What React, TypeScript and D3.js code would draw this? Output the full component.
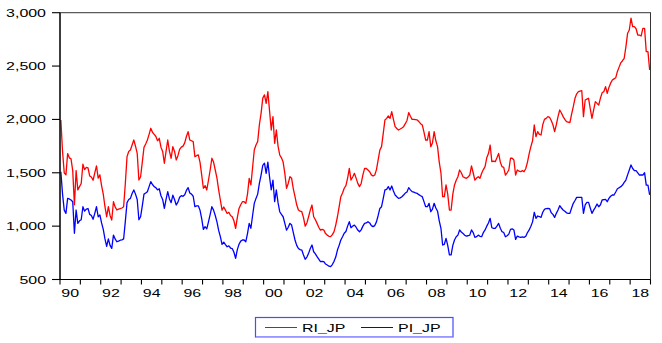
import React from 'react';
import * as d3 from 'd3';

// monthly observations, 1990M01 - 2018M12
const startYear = 1990;
const endYear = 2019;

const riJP = [
  1995, 1700, 1500, 1480, 1680, 1640, 1630, 1520, 1200, 1520, 1340, 1370, // 1990
  1400, 1580, 1530, 1550, 1545, 1470, 1460, 1430, 1500, 1565, 1450, 1480, // 1991
  1380, 1300, 1182, 1088, 1182, 1100, 1057, 1229, 1180, 1151, 1160, 1165, // 1992
  1170, 1182, 1400, 1651, 1700, 1713, 1760, 1807, 1750, 1682, 1432, 1463, // 1993
  1600, 1738, 1770, 1807, 1860, 1917, 1880, 1860, 1840, 1800, 1823, 1740, // 1994
  1700, 1589, 1700, 1807, 1700, 1636, 1745, 1700, 1620, 1660, 1720, 1740, // 1995
  1750, 1780, 1840, 1885, 1807, 1800, 1792, 1651, 1660, 1667, 1600, 1480, // 1996
  1355, 1380, 1339, 1430, 1526, 1636, 1600, 1526, 1450, 1340, 1245, 1150, // 1997
  1180, 1150, 1119, 1130, 1100, 1088, 1050, 980, 1080, 1166, 1200, 1229,  // 1998
  1229, 1213, 1300, 1448, 1386, 1550, 1713, 1760, 1792, 1950, 2057, 2200, // 1999
  2230, 2151, 2260, 2080, 1901, 2026, 1776, 1901, 1750, 1667, 1640, 1600, // 2000
  1495, 1355, 1400, 1463, 1448, 1350, 1276, 1200, 1151, 1140, 1135, 1080, // 2001
  1000, 1030, 1088, 1150, 1198, 1088, 1060, 1026, 990, 963, 970, 963,     // 2002
  930, 916, 905, 901, 920, 948, 1010, 1088, 1180, 1276, 1310, 1355,       // 2003
  1380, 1450, 1542, 1432, 1460, 1495, 1450, 1401, 1370, 1400, 1480, 1542, // 2004
  1540, 1526, 1510, 1480, 1470, 1479, 1530, 1620, 1713, 1745, 1870, 1995, // 2005
  2010, 2032, 2010, 2073, 2000, 1932, 1915, 1901, 1910, 1920, 1932, 1960, // 2006
  1990, 2064, 2030, 2001, 2000, 1998, 1995, 1980, 1960, 1948, 1880, 1807, // 2007
  1807, 1885, 1745, 1780, 1885, 1800, 1745, 1600, 1500, 1276, 1276, 1386, // 2008
  1300, 1151, 1151, 1300, 1386, 1430, 1463, 1526, 1500, 1463, 1455, 1448, // 2009
  1460, 1479, 1564, 1500, 1432, 1450, 1463, 1448, 1495, 1530, 1557, 1640, // 2010
  1680, 1760, 1604, 1610, 1604, 1640, 1682, 1600, 1557, 1550, 1479, 1500, // 2011
  1526, 1636, 1636, 1620, 1479, 1526, 1515, 1510, 1520, 1510, 1540, 1600, // 2012
  1680, 1745, 1800, 1948, 1838, 1885, 1860, 1854, 1950, 2000, 2010, 2026, // 2013
  2020, 1990, 1950, 1885, 1950, 2026, 2088, 2060, 2026, 2000, 1979, 1975, // 2014
  1970, 2050, 2119, 2198, 2240, 2260, 2265, 2269, 2026, 2182, 2190, 2198, // 2015
  2100, 2010, 2090, 2167, 2150, 2135, 2200, 2250, 2260, 2307, 2244, 2300, // 2016
  2340, 2369, 2380, 2390, 2450, 2490, 2530, 2550, 2573, 2680, 2807, 2838, // 2017
  2948, 2869, 2869, 2850, 2791, 2790, 2782, 2854, 2854, 2635, 2635, 2463, // 2018
];

const piJP = [
  1510, 1300, 1150, 1119, 1260, 1255, 1245, 1229, 933, 1151, 1026, 1050, // 1990
  1060, 1182, 1140, 1160, 1165, 1110, 1100, 1065, 1120, 1182, 1088, 1105, // 1991
  1030, 970, 880, 810, 880, 820, 791, 916, 880, 854, 860, 868,           // 1992
  872, 880, 1045, 1220, 1250, 1260, 1305, 1339, 1300, 1250, 1060, 1088,  // 1993
  1190, 1300, 1310, 1323, 1370, 1417, 1390, 1370, 1360, 1340, 1350, 1285, // 1994
  1250, 1166, 1250, 1323, 1255, 1220, 1290, 1250, 1198, 1225, 1270, 1285, // 1995
  1280, 1295, 1335, 1361, 1310, 1300, 1280, 1182, 1190, 1190, 1150, 1070, // 1996
  970, 995, 975, 1040, 1110, 1182, 1150, 1100, 1040, 960, 901, 830,      // 1997
  850, 827, 807, 815, 795, 790, 755, 698, 780, 830, 860, 870,            // 1998
  870, 854, 930, 1026, 980, 1100, 1213, 1260, 1300, 1400, 1479, 1570,    // 1999
  1590, 1495, 1600, 1460, 1339, 1432, 1229, 1339, 1220, 1135, 1110, 1088, // 2000
  1026, 963, 990, 1026, 1010, 940, 870, 820, 791, 780, 776, 730,         // 2001
  690, 710, 745, 790, 823, 760, 740, 714, 690, 667, 670, 667,            // 2002
  645, 636, 625, 620, 640, 670, 710, 776, 820, 870, 900, 933,            // 2003
  950, 1000, 1042, 985, 1000, 1010, 990, 963, 948, 965, 1000, 1026,      // 2004
  1030, 1042, 1030, 1005, 995, 1005, 1040, 1100, 1166, 1182, 1260, 1339, // 2005
  1345, 1370, 1339, 1376, 1330, 1292, 1275, 1260, 1265, 1275, 1292, 1310, // 2006
  1320, 1361, 1340, 1323, 1318, 1312, 1307, 1295, 1285, 1276, 1230, 1182, // 2007
  1182, 1213, 1135, 1160, 1214, 1170, 1140, 1050, 980, 823, 830, 886,    // 2008
  820, 730, 730, 820, 870, 900, 916, 964, 945, 932, 915, 907,            // 2009
  910, 916, 964, 940, 895, 901, 916, 905, 901, 940, 964, 1000,           // 2010
  1030, 1073, 985, 979, 979, 1000, 1026, 980, 948, 940, 900, 910,        // 2011
  925, 970, 975, 964, 876, 907, 900, 895, 900, 895, 905, 940,            // 2012
  964, 1000, 1040, 1130, 1073, 1095, 1090, 1082, 1130, 1157, 1165, 1167, // 2013
  1165, 1125, 1110, 1082, 1120, 1151, 1192, 1170, 1151, 1140, 1125, 1120, // 2014
  1120, 1170, 1214, 1240, 1270, 1270, 1270, 1270, 1120, 1200, 1223, 1223, // 2015
  1170, 1120, 1150, 1176, 1207, 1182, 1200, 1245, 1248, 1251, 1229, 1260, // 2016
  1280, 1292, 1292, 1320, 1350, 1360, 1370, 1385, 1410, 1432, 1480, 1526, // 2017
  1573, 1540, 1520, 1520, 1500, 1479, 1479, 1479, 1501, 1385, 1385, 1292, // 2018
];

const yTicks = [500, 1000, 1500, 2000, 2500, 3000];
const labelYears = d3.range(1990, 2019, 2);

const seriesList = [
  { name: 'RI_JP', values: riJP, color: '#ff0000' },
  { name: 'PI_JP', values: piJP, color: '#0000ff' },
];

const FONT = 'Arial, "Liberation Sans", sans-serif';
const SX = 1.45; // the source picture is stretched sideways

export default function App() {
  const width = 662;
  const height = 343;
  const left = 60, right = 650.5, top = 12.7, bottom = 279.5;

  const x = d3.scaleLinear().domain([startYear, endYear]).range([left, right]);
  const y = d3.scaleLinear().domain([500, 3000]).range([bottom, top]);

  const line = d3.line<number>()
    .x((_, i) => x(startYear + i / 12 + 1 / 24))
    .y(d => y(d));

  const fmt = d3.format(',');

  return (
    <svg width={width} height={height} style={{ position: 'absolute', left: 0, top: 0, background: '#fff' }}>
      {/* series */}
      {seriesList.map(s => (
        <path key={s.name} d={line(s.values) || ''} fill="none" stroke={s.color} strokeWidth={1.3} strokeLinejoin="round" />
      ))}

      {/* frame */}
      <rect x={left} y={top} width={right - left} height={bottom - top} fill="none" stroke="#333" strokeWidth={1} />
      <line x1={left} x2={left} y1={top} y2={bottom} stroke="#000" strokeWidth={1.2} />
      <line x1={left} x2={right} y1={bottom} y2={bottom} stroke="#000" strokeWidth={1.2} />

      {/* y axis */}
      {yTicks.map(t => (
        <g key={t}>
          <line x1={52} x2={left} y1={y(t)} y2={y(t)} stroke="#000" strokeWidth={1.1} />
          <text transform={`translate(46,${y(t) + 4}) scale(${SX},1)`} textAnchor="end"
            fontFamily={FONT} fontSize={11} fill="#000">{fmt(t)}</text>
        </g>
      ))}

      {/* x axis */}
      {d3.range(startYear, endYear + 1).map(yr => (
        <line key={yr} x1={x(yr)} x2={x(yr)} y1={bottom} y2={bottom + 5} stroke="#000" strokeWidth={1.1} />
      ))}
      {labelYears.map(yr => (
        <text key={yr} transform={`translate(${x(yr + 0.5)},297) scale(${SX},1)`} textAnchor="middle"
          fontFamily={FONT} fontSize={11} fill="#000">{String(yr % 100).padStart(2, '0')}</text>
      ))}

      {/* legend */}
      <rect x={255.5} y={317.5} width={197.5} height={19.5} fill="#fff" stroke="#4a4aff" strokeWidth={1.2} />
      <line x1={256} x2={453} y1={337.3} y2={337.3} stroke="#a8a8ff" strokeWidth={1.2} />
      {seriesList.map((s, i) => {
        const lx = 265 + i * 96;
        return (
          <g key={s.name}>
            <line x1={lx} x2={lx + 32} y1={327.5} y2={327.5} stroke={s.color} strokeWidth={1} />
            <text transform={`translate(${lx + 37},331.6) scale(${SX},1)`} fontFamily={FONT} fontSize={11} fill="#000">{s.name}</text>
          </g>
        );
      })}
    </svg>
  );
}
